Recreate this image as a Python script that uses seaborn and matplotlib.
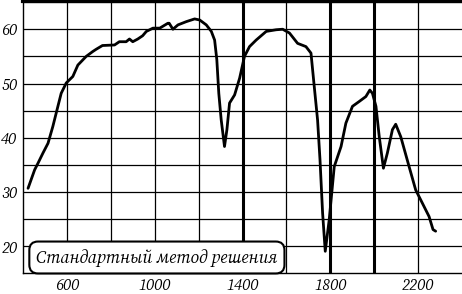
import os
import numpy as np
import pandas as pd
import matplotlib
matplotlib.use("Agg")
import matplotlib.pyplot as plt
from matplotlib import font_manager
import seaborn as sns

# spectrum values
wavenumber = [423, 453, 468, 491, 514, 536, 559, 574, 597, 627,
              650, 688, 718, 733, 762, 817, 839, 870, 885, 900,
              923, 945, 962, 992, 1023, 1060, 1066, 1083, 1106, 1144,
              1182, 1205, 1235, 1258, 1273, 1283, 1292, 1303, 1318, 1329,
              1341, 1364, 1387, 1409, 1432, 1462, 1508, 1553, 1583, 1614,
              1651, 1689, 1712, 1727, 1742, 1753, 1765, 1777, 1795, 1818,
              1849, 1871, 1901, 1932, 1962, 1980, 1992, 2008, 2023, 2042,
              2060, 2083, 2098, 2121, 2159, 2189, 2219, 2250, 2268, 2280]
transmission = [30.7, 34.1, 35.3, 37.2, 39.0, 42.1, 45.8, 48.2, 50.1, 51.3,
                53.4, 55.0, 55.9, 56.3, 57.0, 57.1, 57.7, 57.7, 58.2, 57.7,
                58.2, 58.8, 59.6, 60.2, 60.2, 61.1, 61.1, 60.0, 60.8, 61.4,
                61.9, 61.7, 60.8, 59.6, 58.0, 54.4, 48.2, 43.3, 38.4, 41.5,
                46.4, 47.9, 51.0, 55.0, 56.8, 58.0, 59.6, 59.9, 60.0, 59.3,
                57.4, 56.8, 55.6, 49.4, 43.3, 36.0, 26.1, 19.1, 24.9, 34.7,
                38.4, 42.7, 45.8, 46.7, 47.6, 48.8, 48.2, 45.8, 40.2, 34.4,
                37.2, 41.5, 42.5, 40.2, 34.7, 30.4, 28.0, 25.5, 23.1, 22.8]
x_ticks = [600, 1000, 1400, 1800, 2200]
x_grid = [600, 800, 1000, 1200, 1400, 1600, 1800, 2000, 2200]
y_ticks = [20, 30, 40, 50, 60]
y_grid = [20, 25, 30, 35, 40, 45, 50, 55, 60, 65]
markers = [1400, 1800, 2000]
label = "Стандартный метод решения"

df = pd.DataFrame({"x": wavenumber, "y": transmission})

sns.set_theme(style="white")
plt.rcParams["font.family"] = ["Liberation Serif", "DejaVu Serif"]

# an italic serif face with Cyrillic that is really on disk
ital = None
for name in ["Source Serif 4", "Liberation Serif", "Noto Serif", "DejaVu Serif"]:
    hit = [f.fname for f in font_manager.fontManager.ttflist
           if f.name == name and f.style == "italic" and os.path.exists(f.fname)]
    if hit:
        ital = sorted(hit, key=len)[0]
        break

def fprop(size):
    if ital:
        return font_manager.FontProperties(fname=ital, size=size)
    return font_manager.FontProperties(family="serif", style="italic", size=size)

fig = plt.figure(figsize=(4.62, 2.94), dpi=100)
ax = fig.add_axes([23 / 462, 21 / 294, 439 / 462, 272 / 294])

ax.set_xlim(400, 2400)
ax.set_ylim(15.1, 65.2)
ax.set_xticks(x_grid, minor=True)
ax.set_yticks(y_grid, minor=True)
ax.set_xticks(x_ticks)
ax.set_yticks(y_ticks)
ax.grid(which="both", color="black", lw=0.9)
ax.set_axisbelow(True)

for m in markers:
    ax.axvline(m, color="black", lw=2.2, zorder=1)

sns.lineplot(data=df, x="x", y="y", color="black", lw=2.0, sort=False, ax=ax, zorder=3)

ax.set_xlabel("")
ax.set_ylabel("")
ax.tick_params(axis="both", which="both", length=0, colors="black")
ax.tick_params(axis="x", pad=3)
ax.tick_params(axis="y", pad=4)
ax.set_xticklabels([str(v) for v in x_ticks], fontproperties=fprop(11.5))
ax.set_yticklabels([str(v) for v in y_ticks], fontproperties=fprop(11.5))

for s in ["left", "bottom"]:
    ax.spines[s].set_color("black")
    ax.spines[s].set_linewidth(1.0)
ax.spines["top"].set_color("black")
ax.spines["top"].set_linewidth(3)
ax.spines["right"].set_visible(False)

ax.text(0.305, 0.057, label, transform=ax.transAxes, ha="center", va="center",
        fontproperties=fprop(12.5), color="black", zorder=5,
        bbox=dict(boxstyle="round,pad=0.4,rounding_size=0.5", fc="white", ec="black", lw=1.5))

fig.savefig("out.png", dpi=100)
